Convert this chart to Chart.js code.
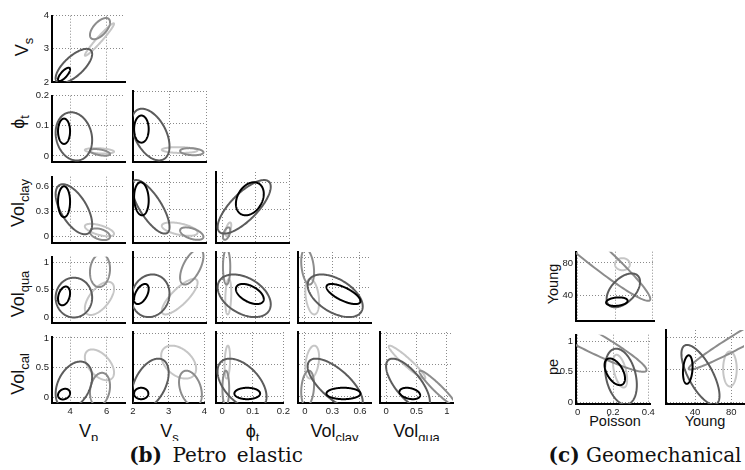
<!DOCTYPE html>
<html>
<head>
<meta charset="utf-8">
<script src="https://cdn.jsdelivr.net/npm/chart.js@4.4.0/dist/chart.umd.min.js"></script>
<style>
  html, body { margin: 0; padding: 0; background: #fff; }
  body { width: 745px; height: 470px; position: relative; overflow: hidden;
         font-family: "Liberation Sans", Arial, sans-serif; color: #111; }
  canvas { position: absolute; }
  .lab { position: absolute; white-space: nowrap; line-height: 1; }
  .lab sub { vertical-align: baseline; position: relative; top: 0.35em; font-size: 0.72em; }
  .big { font-size: 18px; }
  .mid { font-size: 14.5px; }
  .rot { transform: translate(-50%, -50%) rotate(-90deg); }
  .hc  { transform: translate(-50%, -50%); }
  .clipbox { position: absolute; left: 0; top: 0; width: 745px; height: 441px; overflow: hidden; }
  .cap { position: absolute; font-family: "DejaVu Serif", serif; font-size: 20px; color: #111;
         white-space: nowrap; transform: translate(-50%, -50%); line-height: 1; }
  .cap b { font-weight: bold; }
</style>
</head>
<body>
<div class="clipbox" id="labels"></div>
<div class="cap" style="left:216px; top:455px; word-spacing:4px;"><b>(b)</b> Petro elastic</div>
<div class="cap" style="left:645px; top:455px;"><b>(c)</b> Geomechanical</div>

<script>
// ---- Petro-elastic block: Vp, Vs, porosity, clay, quartz, calcite ----
const petroNames  = ['V<sub>p</sub>', 'V<sub>s</sub>', '\u03d5<sub>t</sub>',
                     'Vol<sub>clay</sub>', 'Vol<sub>qua</sub>', 'Vol<sub>cal</sub>'];
const petroMin    = [3, 2, -0.02, -0.075, -0.1, -0.1];
const petroMax    = [7, 4, 0.2, 0.72, 1.1, 1.02];
const petroTicks  = [[4, 6], [2, 3, 4], [0, 0.1, 0.2], [0, 0.3, 0.6], [0, 0.5, 1], [0, 0.5, 1]];

// mixture components: light, mid, dark, black (drawing order)
const petroCentre = [
  [5.60, 3.28, 0.017, 0.08, 0.345, 0.545],
  [5.63, 3.61, 0.012, 0.03, 0.85, 0.13],
  [4.20, 2.48, 0.065, 0.33, 0.36, 0.20],
  [3.66, 2.23, 0.082, 0.42, 0.39, 0.05]
];
const petroSpread = [
  [0.80, 0.49, 0.009, 0.075, 0.30, 0.26],
  [0.55, 0.32, 0.011, 0.070, 0.30, 0.28],
  [1.00, 0.52, 0.080, 0.300, 0.36, 0.40],
  [0.33, 0.20, 0.042, 0.185, 0.17, 0.09]
];
// correlation per lower-triangle pair:
// (Vp,Vs) (Vp,phi) (Vs,phi) (Vp,clay) (Vs,clay) (phi,clay) (Vp,qua) (Vs,qua) (phi,qua) (clay,qua)
// (Vp,cal) (Vs,cal) (phi,cal) (clay,cal) (qua,cal)
const petroCorr = [
  [0.97, -0.3, -0.1, -0.6, -0.5, 0.6, 0.6, 0.8, 0.2, -0.3, -0.5, -0.4, 0.2, 0.3, -0.95],
  [0.60, -0.5, -0.2, -0.4, -0.5, 0.5, 0.1, 0.6, 0.0, -0.3, 0.2, -0.35, 0.0, 0.2, -0.95],
  [0.70, -0.15, -0.45, -0.6, -0.75, 0.75, 0.0, 0.1, -0.4, -0.5, 0.35, 0.44, -0.5, -0.7, -0.7],
  [0.75, 0.0, 0.0, 0.0, -0.1, 0.3, 0.3, 0.5, -0.5, -0.7, 0.2, 0.0, 0.0, 0.0, -0.3]
];

// ---- Geomechanical block: Poisson, Young, pe ----
const geoNames  = ['Poisson', 'Young', 'pe'];
const geoMin    = [-0.01, 8, -0.03];
const geoMax    = [0.41, 94, 1.11];
const geoTicks  = [[0, 0.2, 0.4], [40, 80], [0, 0.5, 1]];
const geoCentre = [
  [0.24, 78.5, 0.51],
  [-0.05, 120, 1.20],
  [0.245, 46, 0.42],
  [0.21, 32, 0.50]
];
const geoSpread = [
  [0.040, 7.5, 0.27],
  [0.440, 87, 0.70],
  [0.090, 21, 0.46],
  [0.058, 5.3, 0.22]
];
// (Poisson,Young) (Poisson,pe) (Young,pe)
const geoCorr = [
  [0.0, -0.5, 0.0],
  [-0.973, -0.957, 0.98],
  [0.5, -0.3, -0.7],
  [0.2, -0.5, 0.2]
];

// ---- styling ----
const componentColours = ['#c6c6c6', '#8c8c8c', '#5c5c5c', '#000000'];
const Y_AXIS_W = 42, X_AXIS_H = 22, PAD = 4;

function ellipsePlugin(items) {
  return {
    id: 'covEllipses',
    afterDatasetsDraw(chart) {
      const { ctx, chartArea: a, scales } = chart;
      ctx.save();
      ctx.beginPath();
      ctx.rect(a.left, a.top, a.right - a.left, a.bottom - a.top);
      ctx.clip();
      ctx.lineWidth = 2;
      ctx.lineJoin = 'round';
      items.forEach(e => {
        const q = Math.sqrt(Math.max(0, 1 - e.r * e.r));
        ctx.beginPath();
        const n = 180;
        for (let k = 0; k <= n; k++) {
          const t = 2 * Math.PI * k / n;
          const u = Math.cos(t), w = Math.sin(t);
          const px = scales.x.getPixelForValue(e.cx + e.sx * u);
          const py = scales.y.getPixelForValue(e.cy + e.sy * (e.r * u + q * w));
          if (k === 0) ctx.moveTo(px, py); else ctx.lineTo(px, py);
        }
        ctx.closePath();
        ctx.strokeStyle = e.colour;
        ctx.stroke();
      });
      ctx.restore();
    }
  };
}

function axis(which, min, max, ticks, showLabels) {
  return {
    type: 'linear', min, max,
    afterBuildTicks: s => { s.ticks = ticks.map(v => ({ value: v })); },
    afterFit: s => { if (which === 'x') s.height = X_AXIS_H; else s.width = Y_AXIS_W; },
    grid: { color: '#8a8a8a', lineWidth: 1, drawTicks: false },
    border: { display: true, color: '#000', width: 2, dash: [1, 2] },
    ticks: {
      display: showLabels, padding: 3, autoSkip: false, maxRotation: 0,
      color: '#222', font: { family: 'Liberation Sans', size: 9.5 },
      callback: v => String(v)
    }
  };
}

function panel(left, top, w, h, xr, yr, items, showX, showY) {
  const cv = document.createElement('canvas');
  const cw = Y_AXIS_W + w + PAD, ch = PAD + h + X_AXIS_H;
  cv.width = cw; cv.height = ch;
  cv.style.left = (left - Y_AXIS_W) + 'px';
  cv.style.top = (top - PAD) + 'px';
  cv.style.width = cw + 'px'; cv.style.height = ch + 'px';
  document.body.appendChild(cv);
  new Chart(cv, {
    type: 'scatter',
    data: { datasets: [{ data: [] }] },
    options: {
      responsive: false, animation: false, devicePixelRatio: 1,
      layout: { padding: { left: 0, top: PAD, right: PAD, bottom: 0 } },
      plugins: { legend: { display: false }, tooltip: { enabled: false } },
      scales: {
        x: axis('x', xr[0], xr[1], xr[2], showX),
        y: axis('y', yr[0], yr[1], yr[2], showY)
      }
    },
    plugins: [ellipsePlugin(items)]
  });
}

function itemsFor(centre, spread, corr, xi, yi) {
  const pair = yi * (yi - 1) / 2 + xi;
  return centre.map((c, k) => ({
    cx: c[xi], sx: spread[k][xi], cy: c[yi], sy: spread[k][yi],
    r: corr[k][pair], colour: componentColours[k]
  }));
}

function label(html, x, y, cls) {
  const d = document.createElement('div');
  d.className = 'lab ' + cls;
  d.style.left = x + 'px'; d.style.top = y + 'px';
  d.innerHTML = html;
  document.getElementById('labels').appendChild(d);
}

// petro-elastic lower-triangle matrix
const pL = [52, 133, 216, 298, 380], pT = [11, 91, 172, 252, 332], pW = 73, pH = 71;
for (let i = 1; i <= 5; i++) {
  for (let j = 0; j < i; j++) {
    panel(pL[j], pT[i - 1], pW, pH,
      [petroMin[j], petroMax[j], petroTicks[j]],
      [petroMin[i], petroMax[i], petroTicks[i]],
      itemsFor(petroCentre, petroSpread, petroCorr, j, i),
      i === 5, j === 0);
  }
}
const pYLabelY = [47, 122, 203, 294, 374];
const pYLabelX = [22, 18, 18, 18, 18];
for (let i = 1; i <= 5; i++) label(petroNames[i], pYLabelX[i - 1], pYLabelY[i - 1], 'big rot');
for (let j = 0; j < 5; j++) label(petroNames[j], pL[j] + pW / 2, 431, 'big hc');

// geomechanical lower-triangle matrix
const gL = [576, 666], gT = [247, 330], gW = 78, gH = 74;
for (let i = 1; i <= 2; i++) {
  for (let j = 0; j < i; j++) {
    panel(gL[j], gT[i - 1], gW, gH,
      [geoMin[j], geoMax[j], geoTicks[j]],
      [geoMin[i], geoMax[i], geoTicks[i]],
      itemsFor(geoCentre, geoSpread, geoCorr, j, i),
      i === 2, j === 0);
  }
}
label(geoNames[1], 553, 284, 'mid rot');
label(geoNames[2], 553, 367, 'mid rot');
label(geoNames[0], gL[0] + gW / 2, 421, 'mid hc');
label(geoNames[1], gL[1] + gW / 2, 421, 'mid hc');
</script>
</body>
</html>
